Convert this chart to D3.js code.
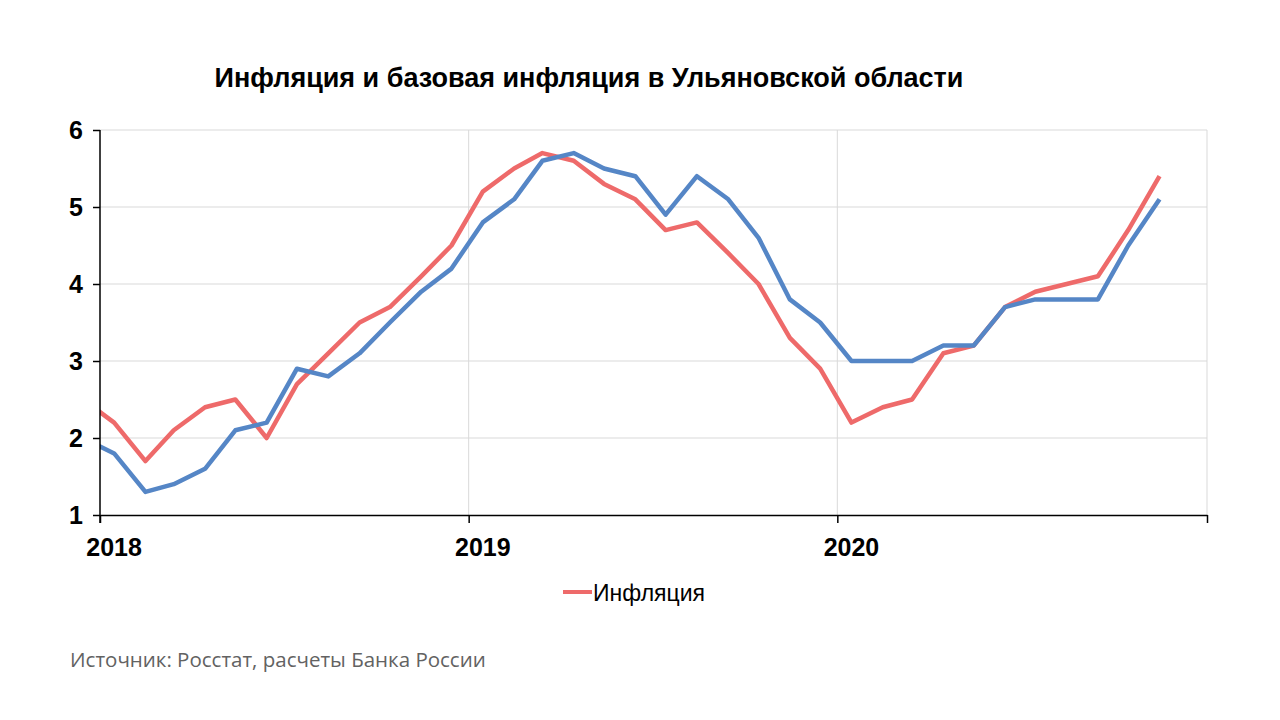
<!DOCTYPE html>
<html>
<head>
<meta charset="utf-8">
<script src="https://cdn.jsdelivr.net/npm/d3@7"></script>
<style>
  body { margin: 0; background: #fff; }
  svg { display: block; }
</style>
</head>
<body>
<svg id="chart" width="1280" height="720"></svg>
<script>
// months from Dec 2017 to Nov 2020 (first point lies left of the plot and gets clipped)
const months = d3.range(-1, 35).map(i => new Date(2018, i, 15));
const inflation = [2.5, 2.2, 1.7, 2.1, 2.4, 2.5, 2.0, 2.7, 3.1, 3.5, 3.7, 4.1, 4.5,
    5.2, 5.5, 5.7, 5.6, 5.3, 5.1, 4.7, 4.8, 4.4, 4.0, 3.3, 2.9,
    2.2, 2.4, 2.5, 3.1, 3.2, 3.7, 3.9, 4.0, 4.1, 4.7, 5.4];
const coreInflation = [2.0, 1.8, 1.3, 1.4, 1.6, 2.1, 2.2, 2.9, 2.8, 3.1, 3.5, 3.9, 4.2,
    4.8, 5.1, 5.6, 5.7, 5.5, 5.4, 4.9, 5.4, 5.1, 4.6, 3.8, 3.5,
    3.0, 3.0, 3.0, 3.2, 3.2, 3.7, 3.8, 3.8, 3.8, 4.5, 5.1];
const yTicks = [1, 2, 3, 4, 5, 6];
const yearTicks = [new Date(2018, 0, 1), new Date(2019, 0, 1), new Date(2020, 0, 1), new Date(2021, 0, 1)];
const yearLabels = ["2018", "2019", "2020"];

const svg = d3.select("#chart");
const mLeft = 100, mRight = 1207, mTop = 130, mBottom = 515;

const x = d3.scaleTime()
    .domain([new Date(2018, 0, 1), new Date(2021, 0, 1)])
    .range([mLeft, mRight]);
const y = d3.scaleLinear().domain([1, 6]).range([mBottom, mTop]);

const narrow = "'Liberation Sans Narrow', 'Liberation Sans', Arial, sans-serif";

svg.append("text")
    .attr("x", 589).attr("y", 87)
    .attr("text-anchor", "middle")
    .style("font-family", narrow)
    .style("font-weight", "bold")
    .style("font-size", "27px")
    .text("Инфляция и базовая инфляция в Ульяновской области");

// grid
svg.append("g").selectAll("line")
    .data(yTicks.slice(1))
    .join("line")
    .attr("x1", mLeft).attr("x2", mRight)
    .attr("y1", d => y(d)).attr("y2", d => y(d))
    .attr("stroke", "#d9d9d9").attr("stroke-width", 1);
svg.append("g").selectAll("line")
    .data(yearTicks.slice(1))
    .join("line")
    .attr("x1", d => x(d)).attr("x2", d => x(d))
    .attr("y1", mTop).attr("y2", mBottom)
    .attr("stroke", "#d9d9d9").attr("stroke-width", 1);

// lines
svg.append("defs").append("clipPath").attr("id", "plot")
    .append("rect").attr("x", mLeft).attr("y", mTop - 10)
    .attr("width", mRight - mLeft).attr("height", mBottom - mTop + 20);

const line = d3.line().x((d, i) => x(months[i])).y(d => y(d));
const lines = svg.append("g").attr("clip-path", "url(#plot)");
lines.append("path").datum(inflation)
    .attr("d", line).attr("fill", "none")
    .attr("stroke", "#ee6a6a").attr("stroke-width", 4.5).attr("stroke-linejoin", "round");
lines.append("path").datum(coreInflation)
    .attr("d", line).attr("fill", "none")
    .attr("stroke", "#5586c6").attr("stroke-width", 4.5).attr("stroke-linejoin", "round");

// axes
const yAxis = svg.append("g")
    .attr("transform", `translate(${mLeft},0)`)
    .call(d3.axisLeft(y).tickValues(yTicks).tickSize(7).tickSizeOuter(0).tickFormat(d3.format("d")));
yAxis.select(".domain").attr("stroke", "#000").attr("stroke-width", 1.5).attr("d", `M0,${mTop}V${mBottom + 8}`);
yAxis.selectAll(".tick line").attr("stroke", "#000").attr("stroke-width", 1.5);
yAxis.selectAll(".tick text")
    .attr("x", -17)
    .style("font-family", narrow).style("font-weight", "bold").style("font-size", "25px").attr("fill", "#000");

const xAxis = svg.append("g")
    .attr("transform", `translate(0,${mBottom})`)
    .call(d3.axisBottom(x).tickValues(yearTicks).tickSize(8).tickSizeOuter(0).tickFormat(""));
xAxis.select(".domain").attr("stroke", "#000").attr("stroke-width", 1.5);
xAxis.selectAll(".tick line").attr("stroke", "#000").attr("stroke-width", 1.5);

svg.append("g").selectAll("text")
    .data(yearLabels)
    .join("text")
    .attr("x", (d, i) => x(months[i * 12 + 1]))
    .attr("y", 556)
    .attr("text-anchor", "middle")
    .style("font-family", narrow).style("font-weight", "bold").style("font-size", "25px")
    .text(d => d);

// legend
svg.append("line")
    .attr("x1", 563).attr("x2", 592).attr("y1", 592).attr("y2", 592)
    .attr("stroke", "#ee6a6a").attr("stroke-width", 4);
svg.append("text")
    .attr("x", 593).attr("y", 601)
    .style("font-family", narrow).style("font-size", "23px")
    .text("Инфляция");

svg.append("text")
    .attr("x", 70).attr("y", 667)
    .style("font-family", "'Open Sans', 'Noto Sans', sans-serif")
    .style("font-size", "20.5px").attr("fill", "#626262")
    .text("Источник: Росстат, расчеты Банка России");
</script>
</body>
</html>
